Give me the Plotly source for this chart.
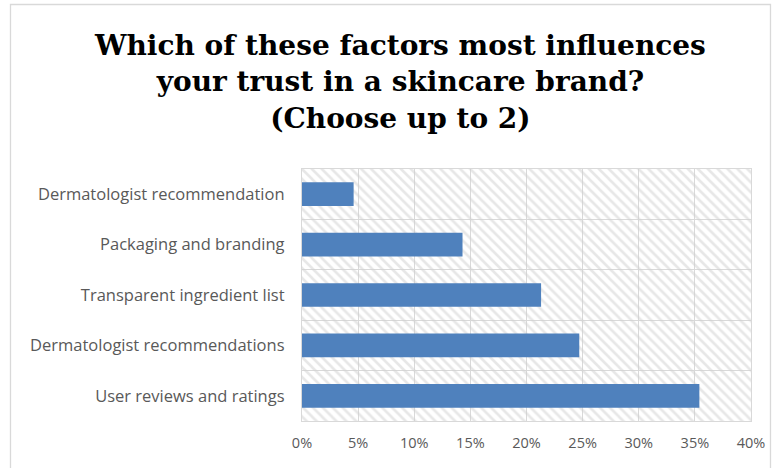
import plotly.graph_objects as go

# Survey answers, listed from the bottom bar to the top bar
factors = [
    "User reviews and ratings",
    "Dermatologist recommendations",
    "Transparent ingredient list",
    "Packaging and branding",
    "Dermatologist recommendation",
]
shares = [35.4, 24.7, 21.3, 14.3, 4.6]  # percent of respondents

x_ticks = [0, 5, 10, 15, 20, 25, 30, 35, 40]
x_tick_labels = [f"{t}%" for t in x_ticks]

title_lines = [
    "Which of these factors most influences",
    "your trust in a skincare brand?",
    "(Choose up to 2)",
]

BAR_BLUE = "#4f81bd"
GRID = "#d9d9d9"
LABEL_GREY = "#595959"

y_pos = list(range(len(factors)))
x_min, x_max = x_ticks[0], x_ticks[-1]
y_min, y_max = -0.5, len(factors) - 0.5
band_edges = [p - 0.5 for p in y_pos] + [y_max]

fig = go.Figure()

# Hatched background band for every category row (transparent base so the
# gridlines underneath stay visible)
fig.add_trace(go.Bar(
    x=[x_max] * len(factors),
    y=y_pos,
    orientation="h",
    width=1.0,
    marker=dict(
        color="rgba(0,0,0,0)",
        line=dict(width=0),
        pattern=dict(shape="\\", fgcolor="#d0d0d0", fillmode="overlay",
                     size=7, solidity=0.38),
    ),
    hoverinfo="skip",
    showlegend=False,
))

fig.add_trace(go.Bar(
    x=shares,
    y=y_pos,
    orientation="h",
    width=0.47,
    marker=dict(color=BAR_BLUE, line=dict(width=0)),
    showlegend=False,
))

fig.update_layout(
    width=780,
    height=468,
    margin=dict(l=302, r=29, t=169, b=47),
    paper_bgcolor="white",
    plot_bgcolor="white",
    barmode="overlay",
    xaxis=dict(
        range=[x_min, x_max],
        tickvals=x_ticks,
        ticktext=x_tick_labels,
        showgrid=True,
        gridcolor=GRID,
        gridwidth=1.3,
        zeroline=False,
        showline=True,
        linecolor=GRID,
        linewidth=1.3,
        mirror=True,
        ticks="",
        ticklabelstandoff=8,
        tickfont=dict(family="Open Sans", size=14.5, color=LABEL_GREY),
        fixedrange=True,
    ),
    yaxis=dict(
        range=[y_min, y_max],
        tickvals=y_pos,
        ticktext=factors,
        showgrid=False,
        zeroline=False,
        showline=True,
        linecolor=GRID,
        linewidth=1.3,
        mirror=True,
        ticks="",
        ticklabelstandoff=13,
        tickfont=dict(family="Open Sans", size=16.5, color=LABEL_GREY),
        minor=dict(tickvals=band_edges, showgrid=True, gridcolor=GRID,
                   gridwidth=1.3, ticks=""),
        fixedrange=True,
    ),
    annotations=[dict(
        text="<br>".join(title_lines),
        xref="paper", yref="paper",
        x=(400 - 302) / 449, y=1 + (169 - 82) / 252,
        xanchor="center", yanchor="middle",
        showarrow=False,
        align="center",
        font=dict(family="DejaVu Serif", size=28, color="black", weight="bold"),
    )],
    shapes=[dict(
        type="rect", xref="paper", yref="paper",
        x0=-(302 - 10.5) / 449, x1=1 + (770.5 - 751) / 449,
        y0=-(470 - 421) / 252, y1=1 + (169 - 4.5) / 252,
        line=dict(color=GRID, width=1.3),
        fillcolor="rgba(0,0,0,0)",
        layer="below",
    )],
)

fig.write_html("out.html")
